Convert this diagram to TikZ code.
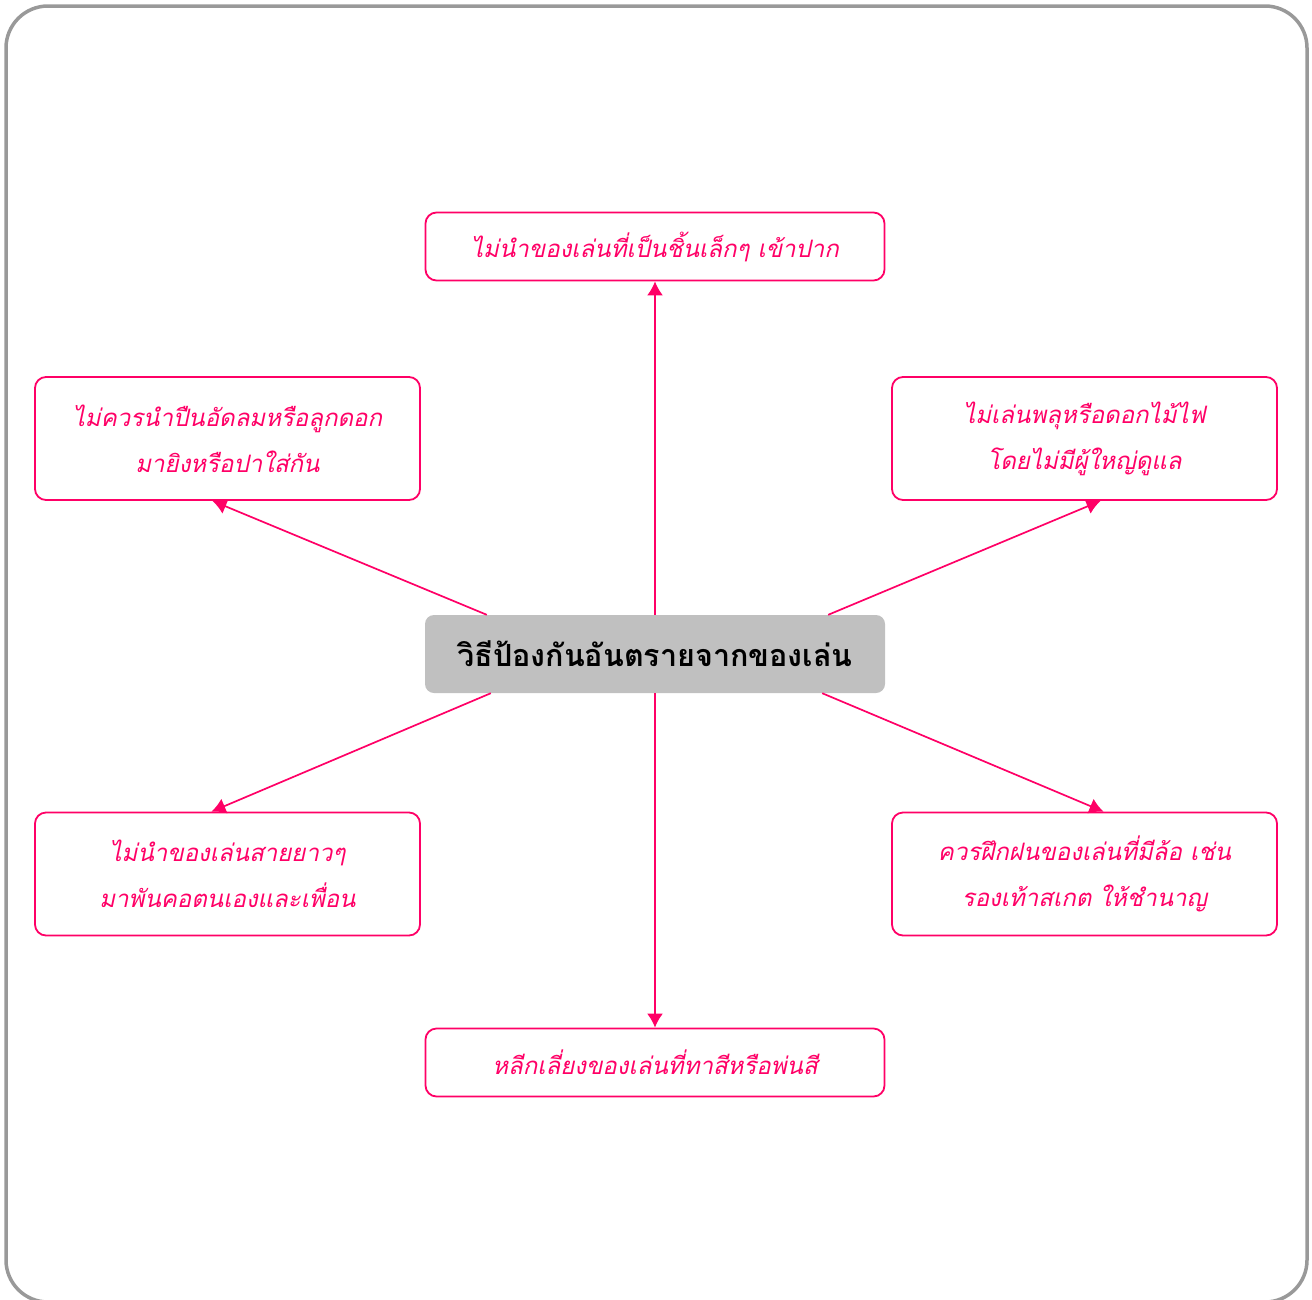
\documentclass[tikz,border=0pt]{standalone}
\usepackage{fontspec}
\usepackage{xcolor}
\newfontfamily\thaifont[Script=Thai,ItalicFont={Loma Oblique},BoldFont={Loma Bold}]{Loma}
\usetikzlibrary{calc,arrows.meta}
\definecolor{hotpink}{HTML}{FF0066}
\definecolor{hubgray}{HTML}{C0C0C0}
\definecolor{framegray}{HTML}{999999}

\begin{document}
\begin{tikzpicture}[x=1pt,y=-1pt,
    tipbox/.style={draw=hotpink, line width=1.8pt, rounded corners=11pt, text=hotpink,
        minimum width=459pt, minimum height=68pt, inner sep=0pt, align=center,
        font=\thaifont\itshape\fontsize{24}{46}\selectfont},
    sidebox/.style={tipbox, minimum width=385pt, minimum height=123pt},
    hubbox/.style={fill=hubgray, rounded corners=9pt, minimum width=460pt, minimum height=78pt,
        inner sep=0pt, font=\thaifont\bfseries\fontsize{30.5}{34}\selectfont},
    link/.style={draw=hotpink, line width=1.7pt, -{Latex[length=14pt,width=16pt]}}]
    \useasboundingbox (0,0) rectangle (1312,1299);

    % Outer frame
    \draw[framegray, line width=3.5pt, rounded corners=42pt] (6,6) rectangle (1307,1302);

    % Hub
    \node[hubbox] (hub) at (655,654) {วิธีป้องกันอันตรายจากของเล่น};

    % Rules round the hub
    \node[tipbox] (top) at (655,246.5) {ไม่นำของเล่นที่เป็นชิ้นเล็กๆ เข้าปาก};
    \node[sidebox] (upleft) at (227.5,438.5) {ไม่ควรนำปืนอัดลมหรือลูกดอก\\มายิงหรือปาใส่กัน};
    \node[sidebox] (upright) at (1084.5,438.5) {ไม่เล่นพลุหรือดอกไม้ไฟ\\โดยไม่มีผู้ใหญ่ดูแล};
    \node[sidebox] (lowleft) at (227.5,874) {ไม่นำของเล่นสายยาวๆ\\มาพันคอตนเองและเพื่อน};
    \node[sidebox] (lowright) at (1084.5,874) {ควรฝึกฝนของเล่นที่มีล้อ เช่น\\รองเท้าสเกต ให้ชำนาญ};
    \node[tipbox] (bottom) at (655,1062.5) {หลีกเลี่ยงของเล่นที่ทาสีหรือพ่นสี};

    % Arrow ends
    \coordinate (ulfrom) at ($(hub.north west)+(62,0)$);
    \coordinate (urfrom) at ($(hub.north east)+(-57,0)$);
    \coordinate (llfrom) at ($(hub.south west)+(66,0)$);
    \coordinate (lrfrom) at ($(hub.south east)+(-63,0)$);
    \coordinate (ulto) at ($(upleft.south)+(-15,0)$);
    \coordinate (urto) at ($(upright.south)+(16,0)$);
    \coordinate (llto) at ($(lowleft.north)+(-16,0)$);
    \coordinate (lrto) at ($(lowright.north)+(19,0)$);

    % Arrows
    \foreach \from/\to in {hub.north/top.south, hub.south/bottom.north,
        ulfrom/ulto, urfrom/urto, llfrom/llto, lrfrom/lrto} {
        \draw[link] (\from) -- (\to);
    }
\end{tikzpicture}
\end{document}
